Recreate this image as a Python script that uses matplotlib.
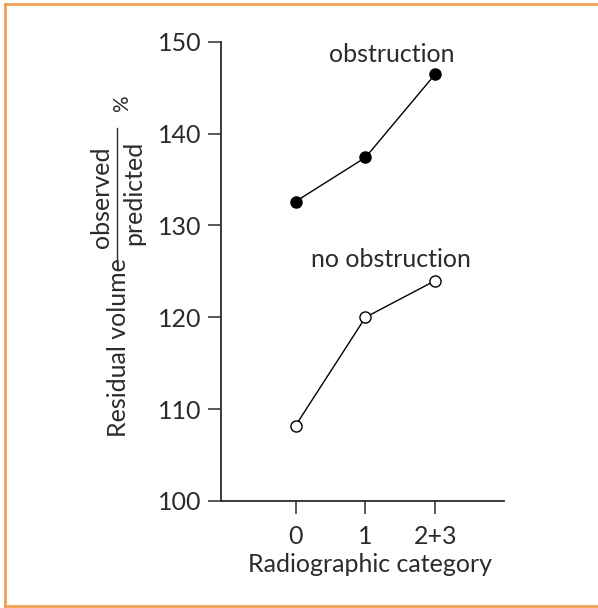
import matplotlib.pyplot as plt
from matplotlib.lines import Line2D

# data
categories = ["0", "1", "2+3"]
obstruction = [132.6, 137.4, 146.5]
no_obstruction = [108.2, 120.0, 124.0]
y_ticks = [100, 110, 120, 130, 140, 150]

W, H = 598, 608
plt.rcParams['font.family'] = ['Lato', 'DejaVu Sans']
ink = '#2b2b2b'
fs = 18

fig = plt.figure(figsize=(W / 100, H / 100), dpi=100)
ax = fig.add_axes([220.7 / W, 1 - 501 / H, (504 - 220.7) / W, (501 - 41.7) / H])

x = list(range(len(categories)))
ax.plot(x, obstruction, '-o', color='black', lw=1.0, ms=8, mfc='black', mec='black', clip_on=False)
ax.plot(x, no_obstruction, '-o', color='black', lw=1.0, ms=8, mfc='white', mec='black', mew=1.0, clip_on=False)

ax.set_xlim(-1.07, 2.98)
ax.set_ylim(100, 150)
ax.set_xticks(x)
ax.set_xticklabels(categories)
ax.set_yticks(y_ticks)

for s in ['top', 'right']:
    ax.spines[s].set_visible(False)
for s in ['left', 'bottom']:
    ax.spines[s].set_color(ink)
    ax.spines[s].set_linewidth(1.3)
ax.tick_params(length=9.5, width=1.1, color=ink, labelcolor=ink, labelsize=fs)
ax.tick_params(axis='y', pad=4.5)
ax.tick_params(axis='x', pad=8)

ax.text(1.37, 147.8, "obstruction", ha='center', va='baseline', fontsize=fs, color=ink)
ax.text(1.37, 125.5, "no obstruction", ha='center', va='baseline', fontsize=fs, color=ink)

fig.text(370 / W, 1 - 571.7 / H, "Radiographic category", ha='center', va='baseline', fontsize=fs, color=ink)

# y label built from pieces: Residual volume  observed/predicted  %
fig.text(119 / W, 1 - 348 / H, "Residual volume", rotation=90, ha='center', va='center', fontsize=fs, color=ink)
fig.text(102 / W, 1 - 197 / H, "observed", rotation=90, ha='center', va='center', fontsize=fs, color=ink)
fig.text(134 / W, 1 - 193 / H, "predicted", rotation=90, ha='center', va='center', fontsize=fs, color=ink)
fig.text(122 / W, 1 - 104 / H, "%", rotation=90, ha='center', va='center', fontsize=15, color=ink)
fig.add_artist(Line2D([116.7 / W, 116.7 / W], [1 - 128 / H, 1 - 264 / H], color=ink, lw=1.0))

# orange frame: top, left and bottom edges only
orange = '#f0a050'
left, top, bottom = 5 / W, 1 - 4 / H, 1 - 606 / H
fig.add_artist(Line2D([left, 1.0], [top, top], color=orange, lw=2))
fig.add_artist(Line2D([left, left], [bottom, top], color=orange, lw=2))
fig.add_artist(Line2D([left, 1.0], [bottom, bottom], color=orange, lw=2))

fig.savefig("out.png", dpi=100)
